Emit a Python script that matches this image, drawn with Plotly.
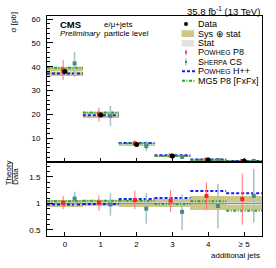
import plotly.graph_objects as go
from plotly.subplots import make_subplots

# ---------------- data ----------------
categories = ["0", "1", "2", "3", "4", "\u2265 5"]
bins = [0, 1, 2, 3, 4, 5]

data_xsec = [38.0, 19.8, 7.4, 2.6, 0.9, 0.42]
band_lo_top = [36.0, 18.6, 6.9, 2.4, 0.78, 0.37]
band_hi_top = [40.0, 21.2, 7.9, 2.8, 1.02, 0.48]
stat_lo_top = [37.8, 19.7, 7.35, 2.57, 0.88, 0.41]
stat_hi_top = [38.2, 19.9, 7.45, 2.63, 0.92, 0.43]

p8_xsec = [38.4, 20.0, 7.84, 2.73, 1.03, 0.45]
p8_lo = [34.5, 17.0, 6.6, 2.2, 0.80, 0.25]
p8_hi = [42.9, 22.8, 9.2, 3.25, 1.25, 0.66]
sherpa_xsec = [41.4, 19.4, 6.7, 2.2, 0.86, 0.48]
sherpa_lo = [35.8, 15.2, 4.6, 1.3, 0.48, 0.27]
sherpa_hi = [46.3, 23.6, 8.8, 3.04, 1.23, 0.69]
hpp_xsec = [37.2, 19.6, 8.0, 2.86, 1.11, 0.50]
mg5_xsec = [39.6, 20.8, 7.75, 2.57, 0.93, 0.36]

band_ratio_lo = [0.935, 0.94, 0.93, 0.925, 0.865, 0.87]
band_ratio_hi = [1.065, 1.06, 1.07, 1.075, 1.135, 1.13]
stat_ratio_lo = [0.994, 0.993, 0.99, 0.985, 0.98, 0.975]
stat_ratio_hi = [1.006, 1.007, 1.01, 1.015, 1.02, 1.025]

p8_ratio = [1.01, 1.01, 1.06, 1.05, 1.14, 1.08]
p8_ratio_lo = [0.89, 0.86, 0.89, 0.84, 0.89, 0.60]
p8_ratio_hi = [1.14, 1.15, 1.24, 1.25, 1.39, 1.56]
sherpa_ratio = [1.09, 0.98, 0.90, 0.84, 0.95, 1.14]
sherpa_ratio_lo = [0.95, 0.77, 0.62, 0.50, 0.53, 0.64]
sherpa_ratio_hi = [1.22, 1.19, 1.19, 1.17, 1.37, 1.65]
hpp_ratio = [0.98, 0.99, 1.08, 1.10, 1.23, 1.19]
mg5_ratio = [1.04, 1.05, 1.05, 0.99, 1.04, 0.86]

# ---------------- style ----------------
FONT = "Liberation Sans"
C_BAND = "#cdc787"
C_STAT = "#e2e2e2"
C_P8 = "#ff2020"
C_P8_ERR = "#ff7070"
C_SH = "#4f8787"
C_SH_ERR = "#a3c3c3"
C_HPP = "#1a1aff"
C_MG5 = "#22aa22"
OFF_P8 = -0.05
OFF_SH = 0.27

fig = make_subplots(rows=2, cols=1, shared_xaxes=True, vertical_spacing=0,
                    row_heights=[0.664, 0.336])


def band(lo, hi, color, row):
    fig.add_trace(go.Bar(x=bins, y=[h - l for l, h in zip(lo, hi)], base=lo,
                         width=1.0, marker=dict(color=color, line=dict(width=0)),
                         showlegend=False, hoverinfo="skip"), row=row, col=1)


def steps(vals, color, dash, row):
    xs, ys = [], []
    for b, v in zip(bins, vals):
        xs += [b - 0.5, b + 0.5, None]
        ys += [v, v, None]
    fig.add_trace(go.Scatter(x=xs, y=ys, mode="lines",
                             line=dict(color=color, width=2, dash=dash),
                             showlegend=False, hoverinfo="skip"), row=row, col=1)


def points(vals, lo, hi, off, mcol, ecol, symbol, size, ewidth, row):
    fig.add_trace(go.Scatter(
        x=[b + off for b in bins], y=vals, mode="markers",
        marker=dict(color=mcol, symbol=symbol, size=size),
        error_y=dict(type="data", symmetric=False,
                     array=[h - v for v, h in zip(vals, hi)],
                     arrayminus=[v - l for v, l in zip(vals, lo)],
                     color=ecol, thickness=ewidth, width=0),
        showlegend=False, hoverinfo="skip"), row=row, col=1)


# top panel
band(band_lo_top, band_hi_top, C_BAND, 1)
band(stat_lo_top, stat_hi_top, C_STAT, 1)
steps(hpp_xsec, C_HPP, "3px,2px", 1)
steps(mg5_xsec, C_MG5, "3px,1.5px,1px,1.5px", 1)
points(p8_xsec, p8_lo, p8_hi, OFF_P8, C_P8, C_P8_ERR, "square", 4, 1, 1)
points(sherpa_xsec, sherpa_lo, sherpa_hi, OFF_SH, C_SH, C_SH_ERR, "square", 4, 1.5, 1)
fig.add_trace(go.Scatter(x=bins, y=data_xsec, mode="markers",
                         marker=dict(color="black", size=5, symbol="circle"),
                         showlegend=False, hoverinfo="skip"), row=1, col=1)

# ratio panel
band(band_ratio_lo, band_ratio_hi, C_BAND, 2)
band(stat_ratio_lo, stat_ratio_hi, C_STAT, 2)
fig.add_trace(go.Scatter(x=[-0.5, 5.5], y=[1, 1], mode="lines",
                         line=dict(color="#808080", width=1),
                         showlegend=False, hoverinfo="skip"), row=2, col=1)
steps(hpp_ratio, C_HPP, "3px,2px", 2)
steps(mg5_ratio, C_MG5, "3px,1.5px,1px,1.5px", 2)
points(p8_ratio, p8_ratio_lo, p8_ratio_hi, OFF_P8, C_P8, C_P8_ERR, "square", 4, 1, 2)
points(sherpa_ratio, sherpa_ratio_lo, sherpa_ratio_hi, OFF_SH, C_SH, C_SH_ERR, "square", 4, 1.5, 2)

axis_common = dict(showline=True, linecolor="black", linewidth=1, mirror=True,
                   ticks="inside", tickcolor="black", showgrid=False, zeroline=False,
                   tickfont=dict(family=FONT, size=8, color="black"))

fig.update_xaxes(range=[-0.5, 5.5], tickvals=bins, ticktext=categories,
                 ticklen=4, **axis_common)
fig.update_xaxes(showticklabels=False, row=1, col=1)
fig.update_xaxes(showticklabels=True, row=2, col=1)

fig.update_yaxes(range=[0, 61.3], tickvals=[10, 20, 30, 40, 50, 60], ticklen=6,
                 ticklabelstandoff=4,
                 minor=dict(dtick=2, ticks="inside", ticklen=3, tickcolor="black"),
                 row=1, col=1, **axis_common)
fig.update_yaxes(range=[0.387, 1.775], tickvals=[0.5, 1, 1.5], ticklen=6,
                 ticktext=["0.5", "1", "1.5"], ticklabelstandoff=4,
                 minor=dict(dtick=0.1, ticks="inside", ticklen=3, tickcolor="black"),
                 row=2, col=1, **axis_common)

L, R, T, B = 47, 14, 16, 32
W, H = 276, 268
PW, PH = W - L - R, H - T - B


def px(x):
    return (x - L) / PW


def py(y):
    return (H - B - y) / PH


ann = []


def text(t, x, y, size=8, xanchor="left", angle=0, yanchor="middle"):
    ann.append(dict(text=t, x=px(x), y=py(y), xref="paper", yref="paper",
                    xanchor=xanchor, yanchor=yanchor, showarrow=False,
                    textangle=angle,
                    font=dict(family=FONT, size=size, color="black")))


text("35.8 fb<sup>-1</sup> (13 TeV)", 262, 10.5, size=9.5, xanchor="right")
text("<b>CMS</b>", 57.5, 24, size=9.5)
text("<i>Preliminary</i>", 57.5, 33.3, size=8)
text("e/\u03bc+jets", 101.5, 24, size=8)
text("particle level", 101.5, 33.3, size=8)
text("\u03c3 [pb]", 13, 22.5, size=8, xanchor="center", angle=-90)
text("Theory", 8.3, 173, size=8, xanchor="center", angle=-90)
text("Data", 15.8, 176.3, size=8, xanchor="center", angle=-90)
text("additional jets", 262, 256, size=8, xanchor="right")

sc = "<span style='font-size:6.8px'>"
leg_rows = [
    ("Data", 24),
    ("Sys \u2295 stat", 33.5),
    ("Stat", 43),
    ("P" + sc + "OWHEG</span> P8", 52.3),
    ("S" + sc + "HERPA</span> CS", 62),
    ("P" + sc + "OWHEG</span> H++", 71.3),
    ("MG5 P8 [FxFx]", 80.7),
]
for t, y in leg_rows:
    text(t, 195.5, y, size=9)

shapes = []


def rect(x0, y0, x1, y1, color):
    shapes.append(dict(type="rect", xref="paper", yref="paper",
                       x0=px(x0), x1=px(x1), y0=py(y0), y1=py(y1),
                       fillcolor=color, line=dict(width=0)))


def seg(x0, y0, x1, y1, color, width=1, dash="solid"):
    shapes.append(dict(type="line", xref="paper", yref="paper",
                       x0=px(x0), x1=px(x1), y0=py(y0), y1=py(y1),
                       line=dict(color=color, width=width, dash=dash)))


# legend symbols
shapes.append(dict(type="circle", xref="paper", yref="paper",
                   x0=px(184), x1=px(188), y0=py(22), y1=py(26),
                   fillcolor="black", line=dict(width=0)))
rect(181.5, 30.3, 194, 37, C_BAND)
rect(181.5, 40, 194, 46.7, C_STAT)
seg(186, 49.5, 186, 55.3, C_P8_ERR, 1)
rect(185, 51.3, 187, 53.3, C_P8)
seg(186, 58.5, 186, 65.5, C_SH_ERR, 1.5)
rect(185, 61, 187, 63, C_SH)
seg(182, 71.3, 196, 71.3, C_HPP, 2, "3px,2px")
seg(182, 80.7, 196, 80.7, C_MG5, 2, "3px,1.5px,1px,1.5px")
# fraction bar
seg(12.3, 163, 12.3, 184, "black", 0.8)

fig.update_layout(width=W, height=H, margin=dict(l=L, r=R, t=T, b=B),
                  paper_bgcolor="white", plot_bgcolor="white",
                  barmode="overlay", bargap=0, showlegend=False,
                  annotations=ann, shapes=shapes)

fig.write_html("out.html",
               config=dict(displayModeBar=False),
               post_script="document.body.style.margin='0px';"
                           "document.body.style.padding='0px';")
